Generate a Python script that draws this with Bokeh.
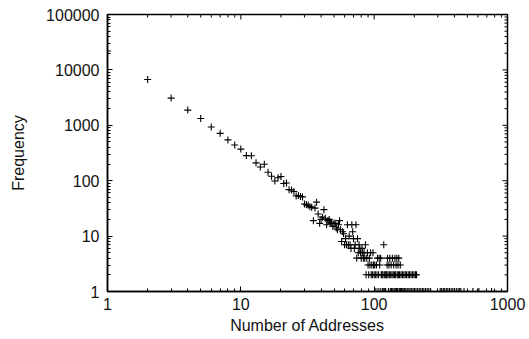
import math
from bokeh.plotting import figure
from bokeh.models import FixedTicker, PrintfTickFormatter, ColumnDataSource
from bokeh.embed import file_html
from bokeh.resources import INLINE

# ---- data -------------------------------------------------------------
x_tick_values = [1, 10, 100, 1000]
y_tick_values = [1, 10, 100, 1000, 10000, 100000]

head_addresses = list(range(1, 99))
head_frequency = [
    22000, 6700, 3100, 1880, 1330, 930, 715, 545, 440, 372,
    284, 282, 210, 177, 198, 142, 120, 99, 113, 119,
    89, 91, 69, 68, 64, 53, 54, 52, 51, 38,
    37, 36, 34, 33, 19, 32, 41, 25, 17, 20,
    22, 30, 21, 16, 19, 20, 18, 17, 15, 17,
    17, 14, 13, 16, 19, 13, 8, 12, 11, 7,
    9, 7, 16, 7, 10, 7, 6, 16, 12, 9,
    6, 7, 16, 4, 9, 5, 7, 6, 5, 4,
    6, 5, 4, 5, 4, 7, 2, 4, 5, 3,
    2, 4, 3, 5, 2, 3, 2, 5,
]

tail_freq7 = [118]
tail_freq4 = [106, 109, 112, 126, 131, 137, 143, 148, 153]
tail_freq3 = [99, 101, 104, 110, 125, 129, 134, 140, 146, 151, 157]
tail_freq2 = [100, 102, 105, 108, 113, 114, 116, 119, 121, 123, 124, 127,
              130, 133, 136, 139, 142, 145, 149, 152, 155, 159, 163, 167,
              171, 175, 180, 184, 189, 194, 199, 204, 208]
tail_freq1 = [103, 107, 111, 115, 117, 120, 122, 128, 132, 135, 138, 141,
              144, 147, 150, 154, 156, 158, 160, 162, 165, 169, 173, 177,
              182, 186, 191, 196, 201, 206, 212, 218, 224, 230, 236, 243,
              250, 257, 265, 313, 321, 330, 338, 348, 357, 367, 378, 389,
              400, 413, 426, 438, 447, 472, 550, 610, 760]

# ---- assemble ---------------------------------------------------------
xs = list(head_addresses)
ys = list(head_frequency)
for f, lst in [(7, tail_freq7), (4, tail_freq4), (3, tail_freq3),
               (2, tail_freq2), (1, tail_freq1)]:
    xs += lst
    ys += [f] * len(lst)
source = ColumnDataSource(data=dict(addresses=xs, frequency=ys))

FONT = "Liberation Sans"
FSIZE = "16px"

x_lo, x_hi = x_tick_values[0], x_tick_values[-1]
y_lo, y_hi = y_tick_values[0], y_tick_values[-1]

p = figure(width=529, height=339, x_axis_type="log", y_axis_type="log",
           x_range=(x_lo, x_hi), y_range=(y_lo, y_hi),
           output_backend="svg", toolbar_location=None,
           min_border_left=107, min_border_right=22,
           min_border_top=14, min_border_bottom=48)
p.background_fill_color = "white"
p.border_fill_color = "white"
p.outline_line_color = "black"
p.outline_line_width = 1.5
p.grid.visible = False


def minor_list(ticks):
    out = []
    for t in ticks[:-1]:
        out += [t * k for k in range(2, 10)]
    return out


x_minor = minor_list(x_tick_values)
y_minor = minor_list(y_tick_values)
x_ticker = FixedTicker(ticks=x_tick_values, minor_ticks=x_minor)
y_ticker = FixedTicker(ticks=y_tick_values, minor_ticks=y_minor)


def style_axis(ax):
    ax.major_tick_in = 5
    ax.major_tick_out = 0
    ax.minor_tick_in = 3
    ax.minor_tick_out = 0
    ax.major_tick_line_color = "black"
    ax.minor_tick_line_color = "black"
    ax.axis_line_color = "black"
    ax.axis_line_width = 1.5
    ax.formatter = PrintfTickFormatter(format="%d")
    ax.major_label_text_font = FONT
    ax.major_label_text_font_size = FSIZE
    ax.major_label_text_color = "#111111"
    ax.axis_label_text_font = FONT
    ax.axis_label_text_font_size = FSIZE
    ax.axis_label_text_font_style = "normal"
    ax.axis_label_text_color = "#111111"


xa = p.xaxis[0]
xa.ticker = x_ticker
style_axis(xa)
xa.axis_label = "Number of Addresses"
xa.major_label_standoff = 6
xa.axis_label_standoff = 4

ya = p.yaxis[0]
ya.ticker = y_ticker
style_axis(ya)
ya.axis_label = "Frequency"
ya.major_label_standoff = 8
ya.axis_label_standoff = 16

# mirrored ticks on the top and right edges of the frame
p.ray(x=x_tick_values, y=[y_hi] * len(x_tick_values), length=5,
      length_units="screen", angle=-math.pi / 2, line_color="black", line_width=1)
p.ray(x=x_minor, y=[y_hi] * len(x_minor), length=3,
      length_units="screen", angle=-math.pi / 2, line_color="black", line_width=1)
p.ray(x=[x_hi] * len(y_tick_values), y=y_tick_values, length=5,
      length_units="screen", angle=math.pi, line_color="black", line_width=1)
p.ray(x=[x_hi] * len(y_minor), y=y_minor, length=3,
      length_units="screen", angle=math.pi, line_color="black", line_width=1)

p.scatter("addresses", "frequency", source=source, marker="cross", size=7,
          line_color="black", line_width=1.1)

open("out.html", "w").write(file_html(p, INLINE))
